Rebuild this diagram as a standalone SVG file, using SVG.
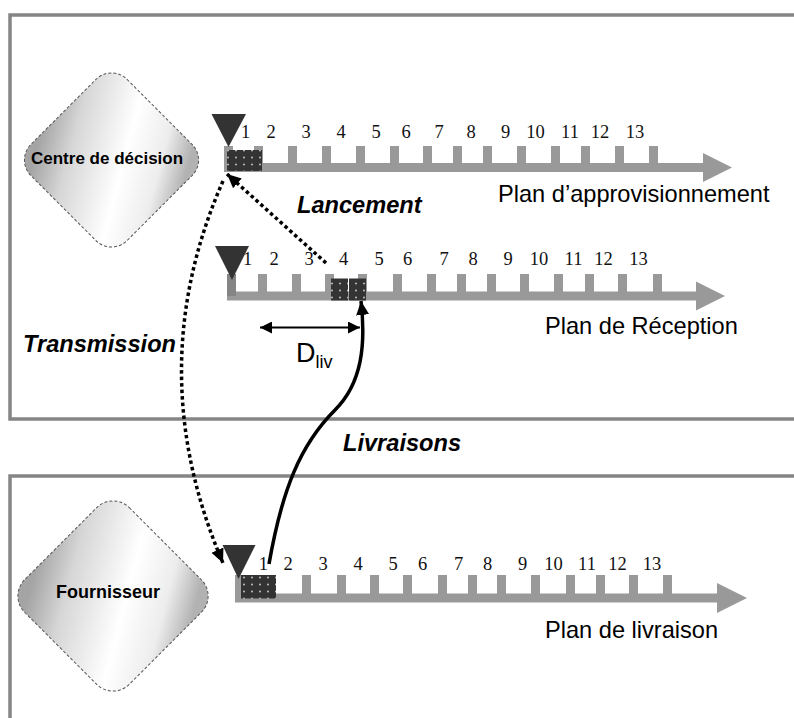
<svg xmlns="http://www.w3.org/2000/svg" width="794" height="718" viewBox="0 0 794 718">
<style>
.zone{fill:none;stroke:#858585;stroke-width:3.5}
.bar{fill:#999999}
.tri{fill:#333333}
.num{font-family:"Liberation Serif","Times New Roman",serif;font-size:18.5px;fill:#111;text-anchor:middle}
.plan{font-family:"Liberation Sans",Arial,sans-serif;font-size:23.6px;fill:#000}
.flow{font-family:"Liberation Sans",Arial,sans-serif;font-size:23.6px;font-weight:bold;font-style:italic;fill:#000}
.dlabel{font-family:"Liberation Sans",Arial,sans-serif;font-weight:bold;fill:#000}
.diamond{fill:url(#dgrad);stroke:#555;stroke-width:1;stroke-dasharray:3 2}
.box{fill:url(#dots);stroke:none}
.dotted{fill:none;stroke:#000;stroke-width:3.5;stroke-dasharray:3.5 3}
.solid{fill:none;stroke:#000;stroke-width:3.5}
</style>
<defs>
<linearGradient id="dgrad" x1="0.02" y1="0.78" x2="0.98" y2="0.22">
<stop offset="0" stop-color="#a4a4a4"/>
<stop offset="0.22" stop-color="#d6d6d6"/>
<stop offset="0.58" stop-color="#ffffff"/>
<stop offset="0.82" stop-color="#ededed"/>
<stop offset="1" stop-color="#b2b2b2"/>
</linearGradient>
<pattern id="dots" patternUnits="userSpaceOnUse" width="8" height="7">
<rect width="8" height="7" fill="#333333"/>
<circle cx="4" cy="3.5" r="0.9" fill="#cfcfcf"/>
</pattern>
<marker id="ah" markerUnits="userSpaceOnUse" markerWidth="15" markerHeight="13" refX="14" refY="6.5" orient="auto">
<path d="M0,0 L14,6.5 L0,13 z" fill="#000"/>
</marker>
<marker id="ahs" markerUnits="userSpaceOnUse" markerWidth="13" markerHeight="12" refX="12" refY="6" orient="auto-start-reverse">
<path d="M0,0 L12,6 L0,12 z" fill="#000"/>
</marker>
</defs>
<rect width="794" height="718" fill="#ffffff"/>

<g id="zone-decision">
<path class="zone" d="M800,15 L10,15 L10,419 L800,419"/>
</g>
<g id="zone-fournisseur">
<path class="zone" d="M800,476 L10,476 L10,730"/>
</g>

<g id="centre-decision">
<rect class="diamond" x="-68" y="-68" width="136" height="136" rx="22" transform="translate(111.5,160) rotate(45)"/>
<text class="dlabel" x="31" y="164" font-size="17">Centre de décision</text>
</g>

<g id="fournisseur">
<rect class="diamond" x="-74" y="-74" width="148" height="148" rx="23" transform="translate(113,596) rotate(45)"/>
<text class="dlabel" x="56" y="598" font-size="18">Fournisseur</text>
</g>

<g id="plan-approvisionnement">
<rect class="bar" x="224" y="163" width="481" height="9"/>
<rect class="bar" x="224" y="146" width="9" height="20"/>
<rect class="bar" x="254" y="146" width="9" height="20"/>
<rect class="bar" x="288" y="146" width="9" height="20"/>
<rect class="bar" x="322" y="146" width="9" height="20"/>
<rect class="bar" x="356" y="146" width="9" height="20"/>
<rect class="bar" x="390" y="146" width="9" height="20"/>
<rect class="bar" x="423" y="146" width="9" height="20"/>
<rect class="bar" x="453" y="146" width="9" height="20"/>
<rect class="bar" x="483" y="146" width="9" height="20"/>
<rect class="bar" x="517" y="146" width="9" height="20"/>
<rect class="bar" x="551" y="146" width="9" height="20"/>
<rect class="bar" x="581" y="146" width="9" height="20"/>
<rect class="bar" x="615" y="146" width="9" height="20"/>
<rect class="bar" x="649" y="146" width="9" height="20"/>
<polygon class="bar" points="703,153 732,167.5 703,182"/>
<rect class="box" x="227" y="150" width="35" height="21"/>
<polygon class="tri" points="211.5,114 246,114 228.5,147"/>
<text class="num" x="245.5" y="138">1</text>
<text class="num" x="271" y="138">2</text>
<text class="num" x="306" y="138">3</text>
<text class="num" x="341" y="138">4</text>
<text class="num" x="376" y="138">5</text>
<text class="num" x="406" y="138">6</text>
<text class="num" x="439" y="138">7</text>
<text class="num" x="471" y="138">8</text>
<text class="num" x="505.5" y="138">9</text>
<text class="num" x="535.5" y="138">10</text>
<text class="num" x="570" y="138">11</text>
<text class="num" x="600" y="138">12</text>
<text class="num" x="635" y="138">13</text>
<text class="plan" x="498" y="202">Plan d’approvisionnement</text>
</g>

<g id="plan-reception">
<rect class="bar" x="227" y="291.5" width="471" height="9"/>
<rect x="227" y="274" width="9" height="22" fill="#858585"/>
<rect class="bar" x="258" y="274" width="9" height="20"/>
<rect class="bar" x="292" y="274" width="9" height="20"/>
<rect class="bar" x="325" y="274" width="9" height="20"/>
<rect class="bar" x="358" y="274" width="9" height="20"/>
<rect class="bar" x="393" y="274" width="9" height="20"/>
<rect class="bar" x="427" y="274" width="9" height="20"/>
<rect class="bar" x="457" y="274" width="9" height="20"/>
<rect class="bar" x="487" y="274" width="9" height="20"/>
<rect class="bar" x="520" y="274" width="9" height="20"/>
<rect class="bar" x="554" y="274" width="9" height="20"/>
<rect class="bar" x="585" y="274" width="9" height="20"/>
<rect class="bar" x="618" y="274" width="9" height="20"/>
<rect class="bar" x="653" y="274" width="9" height="20"/>
<polygon class="bar" points="696,281.5 725,296 696,310.5"/>
<rect class="box" x="331" y="278.5" width="17" height="22"/>
<rect class="box" x="349" y="278.5" width="17" height="22"/>
<polygon class="tri" points="215,246 249,246 232,280"/>
<text class="num" x="247.5" y="265">1</text>
<text class="num" x="274" y="265">2</text>
<text class="num" x="309" y="265">3</text>
<text class="num" x="343.5" y="265">4</text>
<text class="num" x="379" y="265">5</text>
<text class="num" x="407.5" y="265">6</text>
<text class="num" x="444" y="265">7</text>
<text class="num" x="473" y="265">8</text>
<text class="num" x="508" y="265">9</text>
<text class="num" x="539" y="265">10</text>
<text class="num" x="573.5" y="265">11</text>
<text class="num" x="603.5" y="265">12</text>
<text class="num" x="638.5" y="265">13</text>
<text class="plan" x="545" y="334">Plan de Réception</text>
</g>

<g id="plan-livraison">
<rect class="bar" x="235" y="593.5" width="484" height="9"/>
<rect class="bar" x="235" y="575" width="9" height="20"/>
<rect class="bar" x="267" y="575" width="9" height="20"/>
<rect class="bar" x="302" y="575" width="9" height="20"/>
<rect class="bar" x="337" y="575" width="9" height="20"/>
<rect class="bar" x="370" y="575" width="9" height="20"/>
<rect class="bar" x="403" y="575" width="9" height="20"/>
<rect class="bar" x="438" y="575" width="9" height="20"/>
<rect class="bar" x="468" y="575" width="9" height="20"/>
<rect class="bar" x="497" y="575" width="9" height="20"/>
<rect class="bar" x="531" y="575" width="9" height="20"/>
<rect class="bar" x="566" y="575" width="9" height="20"/>
<rect class="bar" x="596" y="575" width="9" height="20"/>
<rect class="bar" x="629" y="575" width="9" height="20"/>
<rect class="bar" x="663" y="575" width="9" height="20"/>
<polygon class="bar" points="717,583 747,598 717,613"/>
<rect class="box" x="241" y="575" width="35" height="23.5"/>
<polygon class="tri" points="222.5,545 255.5,545 238.5,579"/>
<text class="num" x="263.3" y="569.5">1</text>
<text class="num" x="288" y="569.5">2</text>
<text class="num" x="323" y="569.5">3</text>
<text class="num" x="358" y="569.5">4</text>
<text class="num" x="393" y="569.5">5</text>
<text class="num" x="422.5" y="569.5">6</text>
<text class="num" x="458.5" y="569.5">7</text>
<text class="num" x="487.5" y="569.5">8</text>
<text class="num" x="522.5" y="569.5">9</text>
<text class="num" x="553.5" y="569.5">10</text>
<text class="num" x="587" y="569.5">11</text>
<text class="num" x="617.5" y="569.5">12</text>
<text class="num" x="652" y="569.5">13</text>
<text class="plan" x="545" y="638">Plan de livraison</text>
</g>

<g id="connectors">
<path id="lancement" class="dotted" d="M326,263 L227,174" marker-end="url(#ah)"/>
<path id="transmission" class="dotted" d="M223,181 Q140,370 223,563" marker-end="url(#ah)"/>
<path id="livraisons" class="solid" d="M269,564 C282,490 300,445 335,410 C362,383 366,345 361,301" marker-end="url(#ah)"/>
<path id="dliv" d="M260,327.5 L360,327.5" fill="none" stroke="#000" stroke-width="2" marker-start="url(#ahs)" marker-end="url(#ahs)"/>
<text class="flow" x="297" y="213">Lancement</text>
<text class="flow" x="23" y="352">Transmission</text>
<text class="flow" x="343" y="451">Livraisons</text>
<text font-family="Liberation Sans, Arial, sans-serif" font-size="27" x="296" y="362">D<tspan font-size="18" dy="6">liv</tspan></text>
</g>
</svg>
